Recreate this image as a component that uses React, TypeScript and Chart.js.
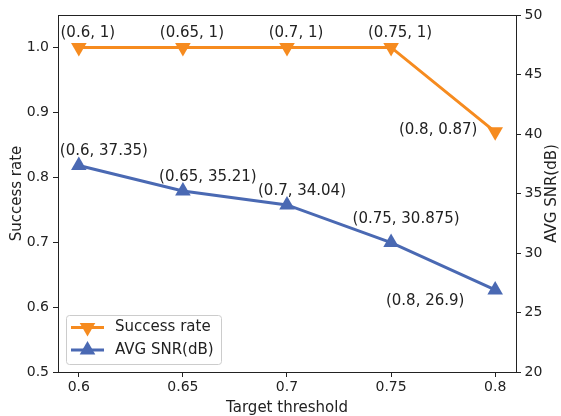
import React, { useEffect, useRef } from 'react';
import { Chart, registerables } from 'chart.js';

Chart.register(...registerables);

// ---- data ----
const thresholds = [0.6, 0.65, 0.7, 0.75, 0.8];
const successRate = [1, 1, 1, 1, 0.87];
const avgSnr = [37.35, 35.21, 34.04, 30.875, 26.9];
const xTicks = [0.6, 0.65, 0.7, 0.75, 0.8];
const leftTicks = [0.5, 0.6, 0.7, 0.8, 0.9, 1.0];
const rightTicks = [20, 25, 30, 35, 40, 45, 50];
const seriesNames = ['Success rate', 'AVG SNR(dB)'];

// ---- style ----
const ORANGE = '#F68B1F';
const BLUE = '#4A69B3';
const TEXT = '#222222';
const FONT = "'DejaVu Sans', sans-serif";
// per-label pixel offsets of annotation text centre from its point
const successLabelOffsets = [[9, -14], [9, -14], [9, -14], [9, -14], [-57, -2]];
const snrLabelOffsets = [[25, -14], [25, -14], [15, -14], [15, -23], [-70, 11]];

function drawTri(ctx: CanvasRenderingContext2D, x: number, y: number, r: number, rotDeg: number) {
  let rad = (rotDeg * Math.PI) / 180;
  const step = (2 * Math.PI) / 3;
  ctx.beginPath();
  ctx.moveTo(x + Math.sin(rad) * r, y - Math.cos(rad) * r);
  rad += step;
  ctx.lineTo(x + Math.sin(rad) * r, y - Math.cos(rad) * r);
  rad += step;
  ctx.lineTo(x + Math.sin(rad) * r, y - Math.cos(rad) * r);
  ctx.closePath();
  ctx.fill();
}

const extrasPlugin = {
  id: 'extras',
  afterDraw(chart: any) {
    const ctx: CanvasRenderingContext2D = chart.ctx;
    const ca = chart.chartArea;
    ctx.save();
    // top spine
    ctx.strokeStyle = TEXT;
    ctx.lineWidth = 1;
    ctx.beginPath();
    ctx.moveTo(ca.left, Math.round(ca.top) + 0.5);
    ctx.lineTo(ca.right, Math.round(ca.top) + 0.5);
    ctx.stroke();

    // annotations
    ctx.fillStyle = TEXT;
    ctx.font = `15px ${FONT}`;
    ctx.textAlign = 'center';
    ctx.textBaseline = 'middle';
    const sets = [
      { vals: successRate, off: successLabelOffsets },
      { vals: avgSnr, off: snrLabelOffsets },
    ];
    sets.forEach((s, di) => {
      const meta = chart.getDatasetMeta(di);
      meta.data.forEach((pt: any, j: number) => {
        const txt = `(${thresholds[j]}, ${s.vals[j]})`;
        ctx.fillText(txt, pt.x + s.off[j][0], pt.y + s.off[j][1]);
      });
    });

    // right axis title (rotated like matplotlib)
    ctx.save();
    ctx.translate(552, (ca.top + ca.bottom) / 2);
    ctx.rotate(-Math.PI / 2);
    ctx.font = `15px ${FONT}`;
    ctx.textAlign = 'center';
    ctx.textBaseline = 'middle';
    ctx.fillText('AVG SNR(dB)', 0, 0);
    ctx.restore();

    // legend
    const lx = 66, ly = 315, lw = 155, lh = 49;
    ctx.beginPath();
    (ctx as any).roundRect(lx + 0.5, ly + 0.5, lw, lh, 3);
    ctx.fillStyle = 'rgba(255,255,255,0.8)';
    ctx.fill();
    ctx.strokeStyle = '#cccccc';
    ctx.lineWidth = 1;
    ctx.stroke();
    const entries = [
      { name: seriesNames[0], color: ORANGE, rot: 180, y: 327.5 },
      { name: seriesNames[1], color: BLUE, rot: 0, y: 350 },
    ];
    entries.forEach((e) => {
      ctx.strokeStyle = e.color;
      ctx.lineWidth = 3;
      ctx.beginPath();
      ctx.moveTo(71, e.y);
      ctx.lineTo(104, e.y);
      ctx.stroke();
      ctx.fillStyle = e.color;
      drawTri(ctx, 87.5, e.y, 9, e.rot);
      ctx.fillStyle = TEXT;
      ctx.font = `15px ${FONT}`;
      ctx.textAlign = 'left';
      ctx.textBaseline = 'middle';
      ctx.fillText(e.name, 115, e.y);
    });
    ctx.restore();
  },
};

export default function App() {
  const ref = useRef<HTMLCanvasElement>(null);
  useEffect(() => {
    if (!ref.current) return;
    const chart = new Chart(ref.current, {
      type: 'line',
      data: {
        datasets: [
          {
            label: seriesNames[0],
            data: thresholds.map((x, i) => ({ x, y: successRate[i] })),
            borderColor: ORANGE,
            backgroundColor: ORANGE,
            borderWidth: 3,
            pointStyle: 'triangle',
            rotation: 180,
            pointRadius: 9,
            pointBorderWidth: 0,
            yAxisID: 'y',
            tension: 0,
          },
          {
            label: seriesNames[1],
            data: thresholds.map((x, i) => ({ x, y: avgSnr[i] })),
            borderColor: BLUE,
            backgroundColor: BLUE,
            borderWidth: 3,
            pointStyle: 'triangle',
            rotation: 0,
            pointRadius: 9,
            pointBorderWidth: 0,
            yAxisID: 'y1',
            tension: 0,
          },
        ],
      },
      options: {
        responsive: false,
        animation: false,
        layout: { padding: { top: 15, left: 0, right: 0, bottom: 0 } },
        plugins: { legend: { display: false }, tooltip: { enabled: false } },
        scales: {
          x: {
            type: 'linear',
            position: 'bottom',
            min: 0.59,
            max: 0.81,
            afterBuildTicks: (s: any) => { s.ticks = xTicks.map((v) => ({ value: v })); },
            afterFit: (s: any) => { s.height = 44; },
            ticks: {
              callback: (v: any) => String(v),
              color: TEXT,
              font: { family: FONT, size: 14 },
              padding: 2,
              autoSkip: false,
              maxRotation: 0,
            },
            grid: { drawOnChartArea: false, tickLength: 5, color: TEXT, tickWidth: 1 },
            border: { color: TEXT, width: 1 },
            title: {
              display: true,
              text: 'Target threshold',
              color: TEXT,
              font: { family: FONT, size: 15, lineHeight: 1.1 },
              padding: { top: 0, bottom: 0 },
            },
          },
          y: {
            type: 'linear',
            position: 'left',
            min: 0.5,
            max: 1.05,
            afterBuildTicks: (s: any) => { s.ticks = leftTicks.map((v) => ({ value: v })); },
            afterFit: (s: any) => { s.width = 58; },
            ticks: {
              callback: (v: any) => Number(v).toFixed(1),
              color: TEXT,
              font: { family: FONT, size: 14 },
              padding: 4,
            },
            grid: { drawOnChartArea: false, tickLength: 5, color: TEXT, tickWidth: 1 },
            border: { color: TEXT, width: 1 },
            title: {
              display: true,
              text: 'Success rate',
              color: TEXT,
              font: { family: FONT, size: 15, lineHeight: 1.2 },
              padding: { top: 8.5, bottom: 0 },
            },
          },
          y1: {
            type: 'linear',
            position: 'right',
            min: 20,
            max: 50,
            afterBuildTicks: (s: any) => { s.ticks = rightTicks.map((v) => ({ value: v })); },
            afterFit: (s: any) => { s.width = 45; },
            ticks: {
              callback: (v: any) => String(v),
              color: TEXT,
              font: { family: FONT, size: 14 },
              padding: 3.5,
            },
            grid: { drawOnChartArea: false, tickLength: 5, color: TEXT, tickWidth: 1 },
            border: { color: TEXT, width: 1 },
          },
        },
      },
      plugins: [extrasPlugin],
    });
    return () => chart.destroy();
  }, []);
  return (
    <div style={{ position: 'fixed', left: 0, top: 0, width: 561, height: 416, background: '#fff' }}>
      <canvas ref={ref} width={561} height={416} />
    </div>
  );
}
